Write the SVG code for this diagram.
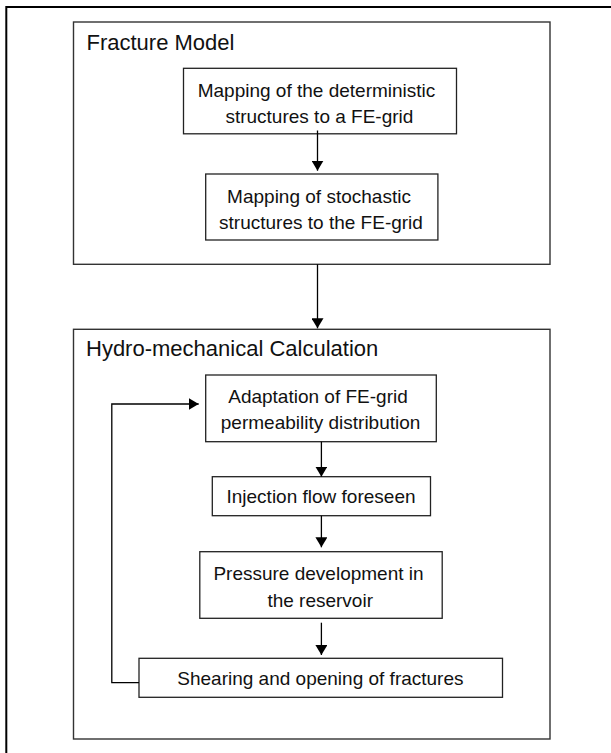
<svg xmlns="http://www.w3.org/2000/svg" width="611" height="753" viewBox="0 0 611 753">
  <style>
    .frame { fill: none; stroke: #000; stroke-width: 2; }
    .group { fill: #fff; stroke: #333; stroke-width: 1.4; }
    .box { fill: #fff; stroke: #222; stroke-width: 1.3; }
    .title { font-family: "Liberation Sans", Arial, Helvetica, sans-serif; font-size: 22px; fill: #111; }
    .label { font-family: "Liberation Sans", Arial, Helvetica, sans-serif; font-size: 19px; fill: #111; text-anchor: middle; }
    .conn { fill: none; stroke: #000; stroke-width: 1.3; }
  </style>
  <defs>
    <marker id="arrow" markerUnits="userSpaceOnUse" markerWidth="11" markerHeight="12" refX="10" refY="6" orient="auto">
      <path d="M0,0 L10,6 L0,12 z" fill="#000"/>
    </marker>
  </defs>
  <rect width="611" height="753" fill="#fff"/>
  <rect class="frame" x="6.3" y="7" width="700" height="800"/>

  <g id="fracture-model">
    <rect class="group" x="73.5" y="22" width="476.5" height="242.3"/>
    <text class="title" x="86.5" y="50">Fracture Model</text>
  </g>

  <g id="hydro-mechanical">
    <rect class="group" x="73.5" y="329.3" width="476.5" height="409.7"/>
    <text class="title" x="86" y="355.7">Hydro-mechanical Calculation</text>
  </g>

  <g id="node-deterministic">
    <rect class="box" x="183.5" y="68.3" width="273" height="65.5"/>
    <text class="label" x="316.5" y="96.7">Mapping of the deterministic</text>
    <text class="label" x="319.4" y="123.3">structures to a FE-grid</text>
  </g>

  <g id="node-stochastic">
    <rect class="box" x="205.7" y="174" width="232.2" height="66"/>
    <text class="label" x="319" y="202.7">Mapping of stochastic</text>
    <text class="label" x="321" y="229.3">structures to the FE-grid</text>
  </g>

  <g id="node-adaptation">
    <rect class="box" x="205.7" y="375" width="230.6" height="66.7"/>
    <text class="label" x="318" y="402.7">Adaptation of FE-grid</text>
    <text class="label" x="320.6" y="429.3">permeability distribution</text>
  </g>

  <g id="node-injection">
    <rect class="box" x="212.3" y="476.7" width="218.2" height="39"/>
    <text class="label" x="321" y="503.3">Injection flow foreseen</text>
  </g>

  <g id="node-pressure">
    <rect class="box" x="199.8" y="551.7" width="242.4" height="66.6"/>
    <text class="label" x="318.5" y="580">Pressure development in</text>
    <text class="label" x="320.2" y="606.7">the reservoir</text>
  </g>

  <g id="node-shearing">
    <rect class="box" x="139" y="658.3" width="363.5" height="39"/>
    <text class="label" x="320.4" y="685">Shearing and opening of fractures</text>
  </g>

  <g id="connectors">
    <line class="conn" x1="317.5" y1="130.5" x2="317.5" y2="170.7" marker-end="url(#arrow)"/>
    <line class="conn" x1="317.5" y1="264.3" x2="317.5" y2="328.3" marker-end="url(#arrow)"/>
    <line class="conn" x1="321.4" y1="441.7" x2="321.4" y2="476.7" marker-end="url(#arrow)"/>
    <line class="conn" x1="321.4" y1="515.7" x2="321.4" y2="547.3" marker-end="url(#arrow)"/>
    <line class="conn" x1="321.4" y1="622.7" x2="321.4" y2="655" marker-end="url(#arrow)"/>
    <polyline class="conn" points="139,682.7 111.8,682.7 111.8,404 198.7,404" marker-end="url(#arrow)"/>
  </g>
</svg>
